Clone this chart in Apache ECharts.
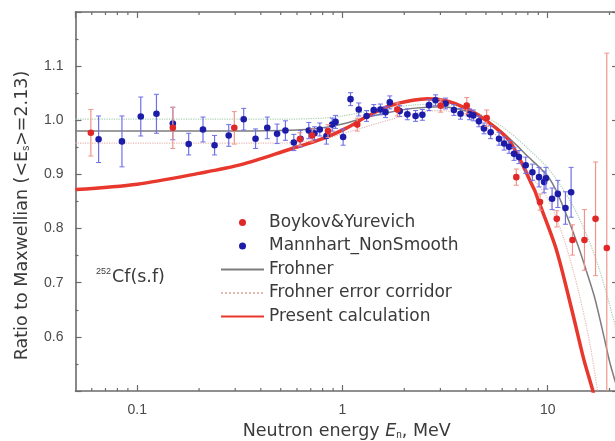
<!DOCTYPE html>
<html>
<head>
<meta charset="utf-8">
<script src="https://cdn.jsdelivr.net/npm/echarts/dist/echarts.min.js"></script>
<style>
  html, body { margin: 0; padding: 0; background: #fff; }
  #main { width: 615px; height: 441px; }
</style>
</head>
<body>
<div id="main"></div>
<script>
// Ratio to Maxwellian, 252Cf(s.f) prompt fission neutron spectrum
// [energy MeV, ratio, error]
var boykov = [
  [0.0594, 0.977, 0.043], [0.149, 0.986, 0.038], [0.297, 0.986, 0.030],
  [0.62, 0.965, 0.012], [0.711, 0.972, 0.012], [0.85, 0.980, 0.012],
  [1.18, 0.992, 0.012], [1.85, 1.020, 0.012], [3.01, 1.027, 0.012],
  [4.03, 1.027, 0.015], [5.04, 1.004, 0.015], [7.03, 0.895, 0.015],
  [9.17, 0.849, 0.015], [11.07, 0.818, 0.015], [13.2, 0.779, 0.028],
  [15.1, 0.779, 0.056], [17.1, 0.818, 0.105], [19.4, 0.764, 0.36]
];
var mannhart = [
  [0.0648, 0.965, 0.043], [0.0842, 0.961, 0.047], [0.104, 1.007, 0.036],
  [0.124, 1.012, 0.036], [0.149, 0.994, 0.030], [0.178, 0.956, 0.020],
  [0.209, 0.983, 0.023], [0.238, 0.954, 0.018], [0.279, 0.972, 0.020],
  [0.330, 1.002, 0.020], [0.377, 0.966, 0.018], [0.43, 0.986, 0.020],
  [0.48, 0.975, 0.018], [0.527, 0.981, 0.018], [0.579, 0.959, 0.015],
  [0.624, 0.966, 0.015], [0.685, 0.981, 0.015], [0.73, 0.976, 0.012],
  [0.775, 0.983, 0.012], [0.835, 0.971, 0.015], [0.891, 0.992, 0.012],
  [0.925, 0.997, 0.012], [1.007, 0.969, 0.015], [1.094, 1.039, 0.012],
  [1.2, 1.020, 0.012], [1.31, 1.008, 0.010], [1.42, 1.019, 0.010],
  [1.53, 1.020, 0.010], [1.62, 1.015, 0.010], [1.70, 1.033, 0.012],
  [1.9, 1.017, 0.010], [2.07, 1.011, 0.010], [2.27, 1.008, 0.010],
  [2.45, 1.010, 0.010], [2.64, 1.028, 0.010], [2.84, 1.037, 0.010],
  [3.18, 1.031, 0.010], [3.49, 1.019, 0.010], [3.76, 1.012, 0.010],
  [4.16, 1.011, 0.010], [4.34, 1.009, 0.010], [4.62, 0.998, 0.010],
  [4.89, 0.985, 0.010], [5.27, 0.978, 0.012], [5.79, 0.966, 0.012],
  [6.13, 0.957, 0.012], [6.48, 0.951, 0.012], [6.85, 0.938, 0.012],
  [7.24, 0.932, 0.012], [7.81, 0.917, 0.015], [8.42, 0.904, 0.015],
  [9.07, 0.895, 0.018], [9.6, 0.886, 0.020], [9.8, 0.893, 0.020],
  [10.5, 0.855, 0.020], [11.2, 0.864, 0.025], [12.2, 0.838, 0.030],
  [13.0, 0.867, 0.046]
];
var frohner = [
  [0.05, 0.980], [0.3, 0.980], [0.6, 0.982], [0.8, 0.986], [1.0, 0.993],
  [1.3, 1.005], [1.7, 1.015], [2.2, 1.022], [3.0, 1.025], [4.0, 1.017],
  [5.0, 1.000], [6.0, 0.978], [7.0, 0.955], [8.0, 0.933], [9.0, 0.915],
  [10.0, 0.897], [11.0, 0.870], [12.5, 0.820], [14.0, 0.770], [15.6, 0.716],
  [17.0, 0.670], [18.8, 0.600], [20.0, 0.555], [22.0, 0.500]
];
var corridorUp = [
  [0.05, 1.002], [0.5, 1.002], [0.8, 1.004], [1.0, 1.008], [1.5, 1.020],
  [2.2, 1.028], [3.0, 1.030], [4.0, 1.022], [5.0, 1.006], [6.0, 0.988],
  [7.0, 0.968], [8.0, 0.948], [10.0, 0.912], [12.0, 0.870], [14.0, 0.825],
  [16.0, 0.775], [18.0, 0.720], [20.0, 0.660], [22.0, 0.600]
];
var corridorLow = [
  [0.05, 0.958], [0.5, 0.958], [0.8, 0.965], [1.0, 0.975], [1.5, 0.995],
  [2.2, 1.012], [3.0, 1.018], [4.0, 1.008], [5.0, 0.988], [6.0, 0.962],
  [7.0, 0.935], [8.0, 0.905], [10.0, 0.855], [12.0, 0.780], [14.0, 0.690],
  [16.0, 0.590], [17.5, 0.500]
];
var present = [
  [0.05, 0.872], [0.1, 0.882], [0.2, 0.902], [0.32, 0.918], [0.55, 0.946],
  [0.8, 0.966], [1.05, 0.986], [1.3, 1.006], [1.7, 1.027], [2.2, 1.037],
  [2.6, 1.040], [3.2, 1.036], [4.0, 1.022], [5.0, 1.000], [6.5, 0.962],
  [8.6, 0.872], [9.0, 0.852], [11.0, 0.762], [13.2, 0.645], [15.0, 0.558],
  [16.6, 0.500], [18.0, 0.446]
];
var minorTicksX = [0.06, 0.07, 0.08, 0.09, 0.2, 0.3, 0.4, 0.5, 0.6, 0.7, 0.8, 0.9,
  2, 3, 4, 5, 6, 7, 8, 9, 20];

var X_MIN = 0.05, X_MAX = 22, Y_MIN = 0.5, Y_MAX = 1.2;
var axisColor = '#6b6b6b';
var textColor = '#3a3a3a';
var font = "'Liberation Sans', Arial, sans-serif";
var wideFont = "'DejaVu Sans', 'Liberation Sans', sans-serif";

function errorBars(barColor, dotColor) {
  return function (params, api) {
    var x = api.value(0), y = api.value(1), e = api.value(2);
    var p = api.coord([x, y]);
    var hi = api.coord([x, y + e]);
    var lo = api.coord([x, y - e]);
    return {
      type: 'group',
      children: [
        { type: 'line', shape: { x1: p[0], y1: hi[1], x2: p[0], y2: lo[1] }, style: { stroke: barColor, lineWidth: 1.2 } },
        { type: 'line', shape: { x1: p[0] - 2.5, y1: hi[1], x2: p[0] + 2.5, y2: hi[1] }, style: { stroke: barColor, lineWidth: 1 } },
        { type: 'line', shape: { x1: p[0] - 2.5, y1: lo[1], x2: p[0] + 2.5, y2: lo[1] }, style: { stroke: barColor, lineWidth: 1 } },
        { type: 'circle', shape: { cx: p[0], cy: p[1], r: 3.3 }, style: { fill: dotColor } }
      ]
    };
  };
}

var hideSym = { opacity: 0 };

var chart = echarts.init(document.getElementById('main'));
chart.setOption({
  animation: false,
  textStyle: { fontFamily: font },
  grid: { left: 75.5, right: -3, top: 12, bottom: 50, outerBoundsMode: 'none' },
  legend: {
    orient: 'vertical',
    left: 220,
    top: 214,
    padding: 0,
    itemWidth: 43,
    itemHeight: 7,
    itemGap: 6.5,
    itemTextGap: 5,
    textStyle: { fontSize: 17, color: textColor, fontFamily: wideFont },
    data: [
      { name: 'Boykov&Yurevich', icon: 'circle' },
      { name: 'Mannhart_NonSmooth', icon: 'circle' },
      { name: 'Frohner', itemStyle: hideSym },
      { name: 'Frohner error corridor', itemStyle: hideSym },
      { name: 'Present calculation', itemStyle: hideSym }
    ]
  },
  graphic: [{
    type: 'text',
    left: 96,
    top: 267,
    style: {
      text: '{sup|252}{n|Cf(s.f)}',
      rich: {
        sup: { fontSize: 9, verticalAlign: 'top', fill: textColor, fontFamily: font, padding: [0, 1, 0, 0] },
        n: { fontSize: 17.5, fill: textColor, fontFamily: wideFont, lineHeight: 20 }
      }
    }
  }],
  xAxis: [{
    type: 'log',
    logBase: 10,
    min: X_MIN,
    max: X_MAX,
    name: '{a|Neutron energy }{i|E}{s|n}{a|, MeV}',
    nameLocation: 'middle',
    nameGap: 31,
    nameTextStyle: {
      rich: {
        a: { fontSize: 17.5, color: textColor, fontFamily: wideFont },
        i: { fontSize: 17.5, color: textColor, fontStyle: 'italic', fontFamily: wideFont },
        s: { fontSize: 10, color: textColor, verticalAlign: 'bottom', fontFamily: font, padding: [8, 0, 0, 0] }
      }
    },
    axisLine: { lineStyle: { color: axisColor, width: 1.6 } },
    axisTick: { inside: true, length: 6, lineStyle: { color: axisColor, width: 1.2 } },
    axisLabel: { showMinLabel: false, showMaxLabel: false, fontSize: 14, color: '#4a4a4a', margin: 12 },
    splitLine: { show: false }
  }, {
    type: 'log',
    logBase: 10,
    min: X_MIN,
    max: X_MAX,
    position: 'top',
    axisLine: { lineStyle: { color: axisColor, width: 1.6 } },
    axisTick: { inside: true, length: 6, lineStyle: { color: axisColor, width: 1.2 } },
    axisLabel: { show: false },
    splitLine: { show: false }
  }],
  yAxis: [{
    type: 'value',
    min: Y_MIN,
    max: Y_MAX,
    interval: 0.1,
    name: '{a|Ratio to Maxwellian (<E}{s|s}{a|>=2.13)}',
    nameLocation: 'middle',
    nameGap: 44,
    nameTextStyle: {
      padding: [0, 28, 0, 0],
      rich: {
        a: { fontSize: 17.5, color: textColor, fontFamily: wideFont },
        s: { fontSize: 10, color: textColor, verticalAlign: 'bottom', fontFamily: font, padding: [8, 0, 0, 0] }
      }
    },
    axisLine: { show: true, lineStyle: { color: axisColor, width: 1.6 } },
    axisTick: { show: true, inside: true, length: 6, lineStyle: { color: axisColor, width: 1.2 } },
    minorTick: { show: true, splitNumber: 2, length: 3, lineStyle: { color: axisColor, width: 1.2 } },
    axisLabel: {
      showMinLabel: false, showMaxLabel: false, fontSize: 14, color: '#4a4a4a', margin: 12,
      formatter: function (v) { return v.toFixed(1); }
    },
    splitLine: { show: false }
  }, {
    type: 'value',
    min: Y_MIN,
    max: Y_MAX,
    interval: 0.1,
    position: 'right',
    axisLine: { show: true, lineStyle: { color: axisColor, width: 1.6 } },
    axisTick: { show: true, inside: true, length: 6, lineStyle: { color: axisColor, width: 1.2 } },
    minorTick: { show: true, splitNumber: 2, length: 3, lineStyle: { color: axisColor, width: 1.2 } },
    axisLabel: { show: false },
    splitLine: { show: false }
  }],
  series: [
    {
      name: 'x minor ticks',
      type: 'custom',
      silent: true,
      z: 1,
      data: minorTicksX.map(function (v) { return [v, Y_MIN]; }),
      renderItem: function (params, api) {
        var b = api.coord([api.value(0), Y_MIN]);
        var t = api.coord([api.value(0), Y_MAX]);
        return {
          type: 'group',
          children: [
            { type: 'line', shape: { x1: b[0], y1: b[1], x2: b[0], y2: b[1] - 3 }, style: { stroke: axisColor, lineWidth: 1.2 } },
            { type: 'line', shape: { x1: t[0], y1: t[1], x2: t[0], y2: t[1] + 3 }, style: { stroke: axisColor, lineWidth: 1.2 } }
          ]
        };
      }
    },
    {
      name: 'Frohner error corridor',
      type: 'line',
      symbol: 'none',
      smooth: 0.3,
      z: 2,
      data: corridorLow,
      lineStyle: { color: '#e6b8b2', width: 1.2, type: 'dotted' },
      itemStyle: { color: '#e6b8b2' }
    },
    {
      name: 'Frohner error corridor',
      type: 'line',
      symbol: 'none',
      smooth: 0.3,
      z: 2,
      data: corridorUp,
      lineStyle: { color: '#a9cfb2', width: 1.2, type: 'dotted' },
      itemStyle: { color: '#a9cfb2' }
    },
    {
      name: 'Frohner',
      type: 'line',
      symbol: 'none',
      smooth: 0.3,
      z: 2,
      data: frohner,
      lineStyle: { color: '#7d7d7d', width: 1.5 },
      itemStyle: { color: '#7d7d7d' }
    },
    {
      name: 'Present calculation',
      type: 'line',
      symbol: 'none',
      smooth: 0.3,
      z: 3,
      data: present,
      lineStyle: { color: '#e8372d', width: 3.5 },
      itemStyle: { color: '#e8372d' }
    },
    {
      name: 'Mannhart_NonSmooth',
      type: 'custom',
      clip: true,
      z: 4,
      itemStyle: { color: '#1c1ca8' },
      data: mannhart,
      renderItem: errorBars('#6f6fe8', '#1c1ca8')
    },
    {
      name: 'Boykov&Yurevich',
      type: 'custom',
      clip: true,
      z: 5,
      itemStyle: { color: '#e02828' },
      data: boykov,
      renderItem: errorBars('#f0948a', '#e02828')
    }
  ]
});
</script>
</body>
</html>
